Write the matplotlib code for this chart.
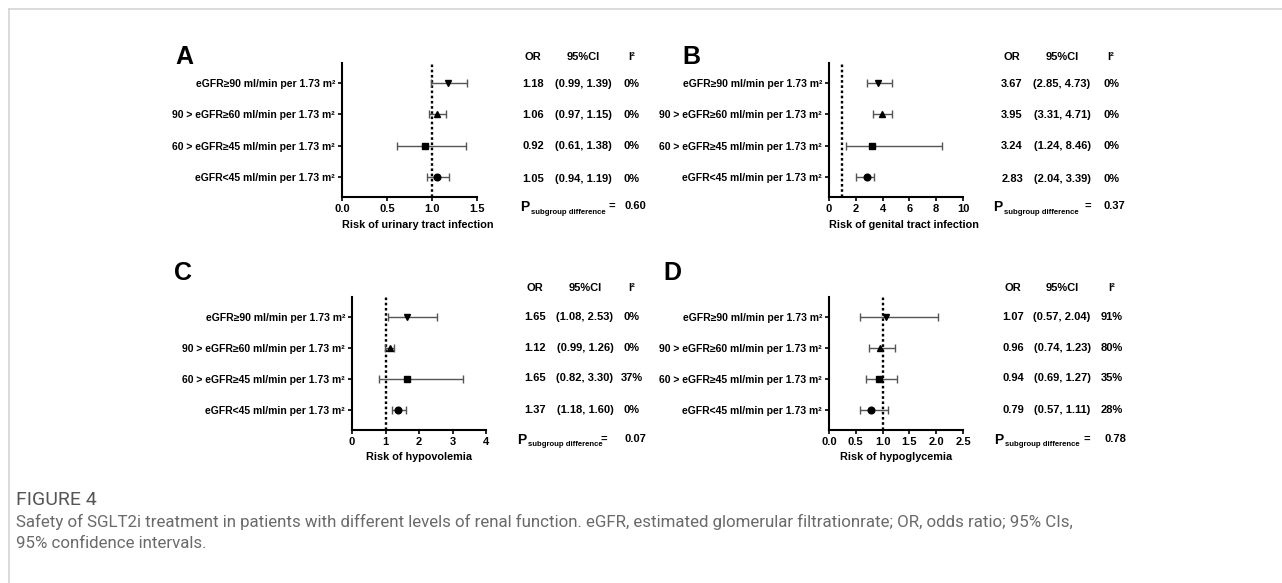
import matplotlib
matplotlib.use("Agg")
import matplotlib.pyplot as plt
from matplotlib.lines import Line2D

plt.rcParams['font.family'] = ['Liberation Sans', 'DejaVu Sans']

W, H = 1282, 583

# ---- data ----
row_labels = ["eGFR≥90 ml/min per 1.73 m²",
              "90 > eGFR≥60 ml/min per 1.73 m²",
              "60 > eGFR≥45 ml/min per 1.73 m²",
              "eGFR<45 ml/min per 1.73 m²"]
markers = ['v', '^', 's', 'o']

A_or = [1.18, 1.06, 0.92, 1.05]
A_lo = [0.99, 0.97, 0.61, 0.94]
A_hi = [1.39, 1.15, 1.38, 1.19]
A_i2 = ['0%', '0%', '0%', '0%']
A_p = '0.60'
A_ticks = [0.0, 0.5, 1.0, 1.5]
A_ticklabels = ['0.0', '0.5', '1.0', '1.5']

B_or = [3.67, 3.95, 3.24, 2.83]
B_lo = [2.85, 3.31, 1.24, 2.04]
B_hi = [4.73, 4.71, 8.46, 3.39]
B_i2 = ['0%', '0%', '0%', '0%']
B_p = '0.37'
B_ticks = [0, 2, 4, 6, 8, 10]
B_ticklabels = ['0', '2', '4', '6', '8', '10']

C_or = [1.65, 1.12, 1.65, 1.37]
C_lo = [1.08, 0.99, 0.82, 1.18]
C_hi = [2.53, 1.26, 3.30, 1.60]
C_i2 = ['0%', '0%', '37%', '0%']
C_p = '0.07'
C_ticks = [0, 1, 2, 3, 4]
C_ticklabels = ['0', '1', '2', '3', '4']

D_or = [1.07, 0.96, 0.94, 0.79]
D_lo = [0.57, 0.74, 0.69, 0.57]
D_hi = [2.04, 1.23, 1.27, 1.11]
D_i2 = ['91%', '80%', '35%', '28%']
D_p = '0.78'
D_ticks = [0.0, 0.5, 1.0, 1.5, 2.0, 2.5]
D_ticklabels = ['0.0', '0.5', '1.0', '1.5', '2.0', '2.5']


def fx(x):
    return x / W


def fy(y):
    return 1 - y / H


fig = plt.figure(figsize=(W / 100, H / 100), dpi=100)

# frame lines of the figure box
fig.add_artist(Line2D([fx(9), 1], [fy(9), fy(9)], color='#d4d4d4', lw=1.2))
fig.add_artist(Line2D([fx(9), fx(9)], [fy(9), 0], color='#d4d4d4', lw=1.2))


def forest(box, ors, lo, hi, ticks, ticklabels, xlabel, label_x=0.5):
    l, r, t, b = box
    ax = fig.add_axes([fx(l), fy(b), fx(r - l), (b - t) / H])
    ys = list(range(len(ors)))
    ax.axvline(1, color='black', ls=(0, (1.1, 1.1)), lw=1.7, zorder=1)
    for i in ys:
        ax.errorbar(ors[i], i, xerr=[[ors[i] - lo[i]], [hi[i] - ors[i]]],
                    fmt=markers[i], color='black', ms=4.8, ecolor='#555555',
                    elinewidth=1.0, capsize=3, capthick=1.0, zorder=3)
    ax.set_xlim(ticks[0], ticks[-1])
    ax.set_ylim(3.65, -0.65)
    ax.set_xticks(ticks)
    ax.set_xticklabels(ticklabels, fontsize=8, fontweight='bold')
    ax.set_yticks(ys)
    ax.set_yticklabels(row_labels, fontsize=7.5, fontweight='bold')
    ax.tick_params(axis='both', direction='out', length=3, width=1.2, pad=2)
    ax.set_xlabel(xlabel, fontsize=7.8, fontweight='bold', labelpad=4, x=label_x)
    for s in ['top', 'right']:
        ax.spines[s].set_visible(False)
    for s in ['left', 'bottom']:
        ax.spines[s].set_linewidth(1.5)
    ax.patch.set_alpha(0)
    return ax


def table(cols, header_y, row_ys, p_y, ors, lo, hi, i2, p, p_x, eq_x):
    kw = dict(fontsize=8, fontweight='bold', ha='center', va='center')
    fig.text(fx(cols[0]), fy(header_y), 'OR', **kw)
    fig.text(fx(cols[1]), fy(header_y), '95%CI', **kw)
    fig.text(fx(cols[2]), fy(header_y), 'I²', **kw)
    for k in range(len(ors)):
        fig.text(fx(cols[0]), fy(row_ys[k]), f'{ors[k]:.2f}', **kw)
        fig.text(fx(cols[1]), fy(row_ys[k]), f'({lo[k]:.2f}, {hi[k]:.2f})', **kw)
        fig.text(fx(cols[2]), fy(row_ys[k]), i2[k], **kw)
    fig.text(fx(p_x), fy(p_y), 'P', fontsize=10, fontweight='bold', ha='left', va='center')
    fig.text(fx(p_x + 11), fy(p_y + 5), 'subgroup difference', fontsize=5.6,
             fontweight='bold', ha='left', va='center')
    fig.text(fx(eq_x), fy(p_y - 1), '=', **kw)
    fig.text(fx(cols[2] + 3), fy(p_y - 1), p, **kw)


forest((342, 477, 63, 197), A_or, A_lo, A_hi, A_ticks, A_ticklabels,
       'Risk of urinary tract infection', 0.56)
forest((829, 963, 63, 197), B_or, B_lo, B_hi, B_ticks, B_ticklabels,
       'Risk of genital tract infection', 0.56)
forest((352, 486, 297, 430), C_or, C_lo, C_hi, C_ticks, C_ticklabels,
       'Risk of hypovolemia')
forest((829, 963, 297, 430), D_or, D_lo, D_hi, D_ticks, D_ticklabels,
       'Risk of hypoglycemia')

table((533, 583, 632), 57, [84, 115, 146, 179], 207, A_or, A_lo, A_hi, A_i2, A_p, 520, 612)
table((1012, 1062, 1111), 57, [84, 115, 146, 179], 207, B_or, B_lo, B_hi, B_i2, B_p, 993, 1088)
table((535, 585, 632), 288, [317, 348, 378, 410], 440, C_or, C_lo, C_hi, C_i2, C_p, 517, 604)
table((1013, 1062, 1112), 288, [317, 348, 378, 410], 440, D_or, D_lo, D_hi, D_i2, D_p, 994, 1087)

# panel letters
for letter, x, y in [('A', 184, 57), ('B', 691, 57), ('C', 183, 273), ('D', 672, 273)]:
    fig.text(fx(x), fy(y), letter, fontsize=18, fontweight='bold', ha='center', va='center')

# caption
cap_font = ['Roboto', 'DejaVu Sans']
fig.text(fx(16), fy(500), 'FIGURE 4', fontsize=14, color='#555555', family=cap_font,
         ha='left', va='center')
fig.text(fx(16), fy(522), 'Safety of SGLT2i treatment in patients with different levels of renal function. '
         'eGFR, estimated glomerular filtrationrate; OR, odds ratio; 95% CIs,',
         fontsize=12.2, color='#6a6a6a', family=cap_font,
         ha='left', va='center')
fig.text(fx(16), fy(544), '95% confidence intervals.',
         fontsize=12.2, color='#6a6a6a', family=cap_font,
         ha='left', va='center')

fig.savefig('out.png', dpi=100)
